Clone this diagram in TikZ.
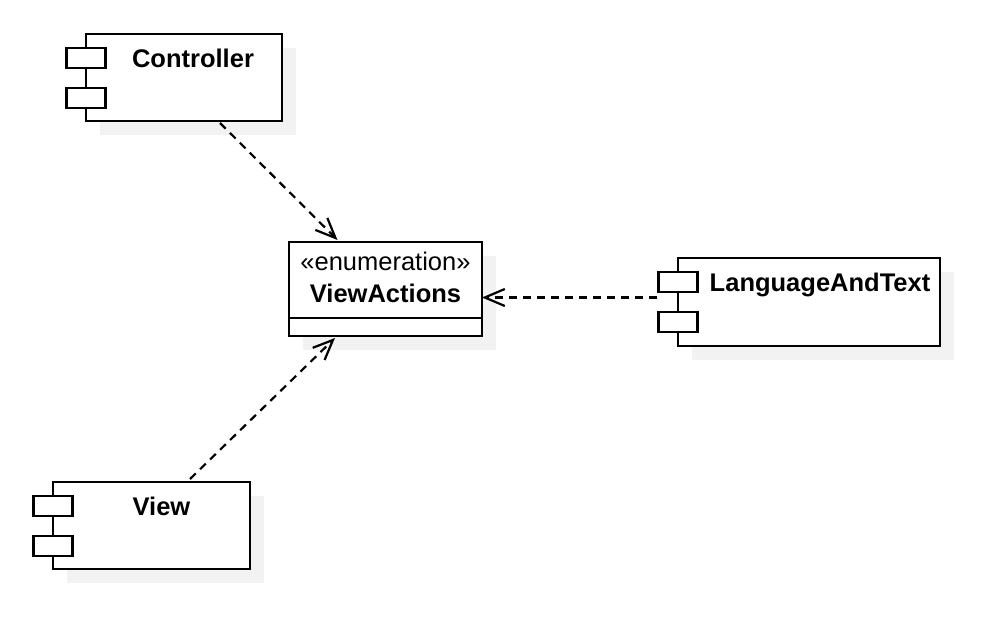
\documentclass[tikz,border=0pt]{standalone}
\usepackage{fontspec}
\setmainfont{Liberation Sans}
\usetikzlibrary{positioning,calc,arrows.meta,shadows}

\definecolor{shadowgray}{RGB}{242,242,242}

\tikzset{
	comp/.style={draw, line width=2.6pt, fill=white, anchor=north west, inner sep=0pt, outer sep=0pt,
		general shadow={fill=shadowgray, shadow xshift=14pt, shadow yshift=-14pt}},
	port/.style={draw, line width=2.2pt, fill=white, inner sep=0pt, outer sep=0pt,
		minimum width=39pt, minimum height=20pt},
	txt/.style={font=\fontsize{25.5}{30}\selectfont, anchor=base, inner sep=0pt},
	title/.style={txt, font=\fontsize{25.5}{30}\selectfont\bfseries},
	dep/.style={line width=2.2pt, dash pattern=on 8pt off 6pt,
		-{Straight Barb[length=20pt, width=17pt, line width=2.2pt]}},
}

\begin{document}
\begin{tikzpicture}[x=1pt, y=-1pt]
	\useasboundingbox (0,0) rectangle (1006,636);
	
	\node[comp, minimum width=196pt, minimum height=87pt] (ctrl) at (86,34) {};
	\node[comp, minimum width=197pt, minimum height=87pt] (view) at (53,482) {};
	\node[comp, minimum width=262pt, minimum height=88pt] (lang) at (678,258) {};
	\node[comp, minimum width=193pt, minimum height=94pt] (enum) at (289,242) {};
	
	\foreach \c in {ctrl, view, lang}{
		\node[port] (\c-p1) at ($(\c.north west)+(0,24)$) {};
		\node[port] (\c-p2) at ($(\c.north west)+(0,64)$) {};
	}
	
	\node[title] (ctrl-name) at ($(ctrl.north)+(9,34)$) {Controller};
	\node[title] (view-name) at ($(view.north)+(10,33)$) {View};
	\node[title] (lang-name) at ($(lang.north)+(11,33)$) {LanguageAndText};
	
	\node[txt] (enum-stereo) at ($(enum.north)+(0,28)$) {«enumeration»};
	\node[title] (enum-name) at ($(enum.north)+(0,60)$) {ViewActions};
	\draw[line width=2.6pt] ($(enum.north west)+(0,76)$) -- ($(enum.north east)+(0,76)$);
	
%	dependencies
	\draw[dep] ($(ctrl.south)+(36,2)$) -- ($(enum.north)+(-48,-2)$);
	\draw[dep] ($(view.north)+(38.5,-3)$) -- ($(enum.south)+(-50.5,2)$);
	\draw[dep] ($(lang.west)+(-21,-4.5)$) -- ($(enum.east)+(0,8.5)$);
\end{tikzpicture}
\end{document}
